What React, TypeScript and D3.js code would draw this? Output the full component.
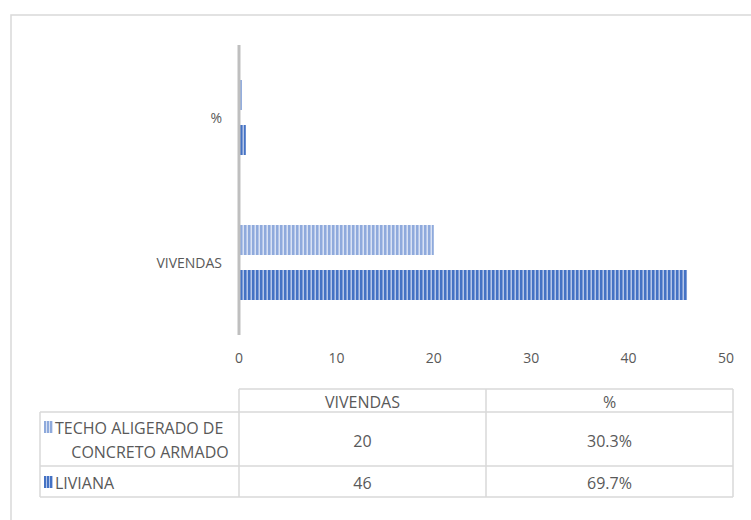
import React from "react";
import * as d3 from "d3";

const categories = ["%", "VIVENDAS"];
const seriesNames = ["TECHO ALIGERADO DE CONCRETO ARMADO", "LIVIANA"];
const techoLabelLines = ["TECHO ALIGERADO DE", "CONCRETO ARMADO"];
const techoValues = [0.303, 20];
const livianaValues = [0.697, 46];
const tableTecho = ["20", "30.3%"];
const tableLiviana = ["46", "69.7%"];
const tableHeaders = ["VIVENDAS", "%"];
const xTicks = [0, 10, 20, 30, 40, 50];

const W = 751;
const H = 520;
const FONT = "'Open Sans', 'Noto Sans', sans-serif";
const TXT = "#595959";
const GRID = "#d9d9d9";
const AXFS = 14;
const TFS = 16;

export default function App() {
  const x = d3.scaleLinear().domain([0, 50]).range([239, 726]);
  const y = d3.scaleBand<string>().domain(categories).range([45, 335]).paddingInner(0).paddingOuter(0);
  const barH = 30;
  const gap = 15;
  const groupH = barH * 2 + gap;

  const series = [
    { name: seriesNames[0], values: techoValues, fill: "url(#patLight)" },
    { name: seriesNames[1], values: livianaValues, fill: "url(#patDark)" },
  ];

  const colX = [40, 239, 486, 733];
  const rowY = [389, 412, 466, 497];

  return (
    <svg width={W} height={H} style={{ position: "absolute", left: 0, top: 0 }} fontFamily={FONT}>
      <defs>
        <pattern id="patDark" width={4} height={4} patternUnits="userSpaceOnUse">
          <rect width={4} height={4} fill="#4472C4" />
          <rect x={2} width={1} height={4} fill="#7F9DD6" />
          <rect x={3} width={1} height={4} fill="#B4C6E9" />
        </pattern>
        <pattern id="patLight" width={4} height={4} patternUnits="userSpaceOnUse">
          <rect width={4} height={4} fill="#8FAADC" />
          <rect x={2} width={1} height={4} fill="#B4C6EA" />
          <rect x={3} width={1} height={4} fill="#D9E2F3" />
        </pattern>
        <pattern id="keyDark" width={3} height={4} patternUnits="userSpaceOnUse" x={44}>
          <rect width={3} height={4} fill="#4472C4" />
          <rect x={2} width={1} height={4} fill="#B4C6E9" />
        </pattern>
        <pattern id="keyLight" width={3} height={4} patternUnits="userSpaceOnUse" x={44}>
          <rect width={3} height={4} fill="#8FAADC" />
          <rect x={2} width={1} height={4} fill="#D9E2F3" />
        </pattern>
      </defs>
      <rect x={0} y={0} width={W} height={H} fill="#fff" />
      {/* outer chart border */}
      <rect x={11} y={15} width={W + 20} height={H + 20} fill="none" stroke="#d9d9d9" strokeWidth={1.5} />

      {/* bars */}
      {categories.map((c, ci) => {
        const top = (y(c) as number) + (y.bandwidth() - groupH) / 2;
        return (
          <g key={c}>
            {series.map((s, si) => (
              <rect
                key={si}
                x={x(0)}
                y={top + si * (barH + gap)}
                width={x(s.values[ci]) - x(0)}
                height={barH}
                fill={s.fill}
              />
            ))}
            <text
              x={222}
              y={(y(c) as number) + y.bandwidth() / 2}
              textAnchor="end"
              dominantBaseline="central"
              fontSize={AXFS}
              fill={TXT}
            >
              {c}
            </text>
          </g>
        );
      })}

      {/* axis line */}
      <line x1={x(0)} x2={x(0)} y1={y.range()[0]} y2={y.range()[1]} stroke="#bfbfbf" strokeWidth={3} />

      {/* x tick labels */}
      {xTicks.map((t) => (
        <text key={t} x={x(t)} y={357} textAnchor="middle" dominantBaseline="central" fontSize={AXFS} fill={TXT}>
          {t}
        </text>
      ))}

      {/* data table */}
      <g stroke={GRID} strokeWidth={1.5} fill="none">
        <line x1={colX[1]} x2={colX[3]} y1={rowY[0]} y2={rowY[0]} />
        <line x1={colX[0]} x2={colX[3]} y1={rowY[1]} y2={rowY[1]} />
        <line x1={colX[0]} x2={colX[3]} y1={rowY[2]} y2={rowY[2]} />
        <line x1={colX[0]} x2={colX[3]} y1={rowY[3]} y2={rowY[3]} />
        <line x1={colX[0]} x2={colX[0]} y1={rowY[1]} y2={rowY[3]} />
        <line x1={colX[1]} x2={colX[1]} y1={rowY[0]} y2={rowY[3]} />
        <line x1={colX[2]} x2={colX[2]} y1={rowY[0]} y2={rowY[3]} />
        <line x1={colX[3]} x2={colX[3]} y1={rowY[0]} y2={rowY[3]} />
      </g>
      {tableHeaders.map((h, i) => (
        <text key={h} x={(colX[i + 1] + colX[i + 2]) / 2} y={(rowY[0] + rowY[1]) / 2 + 1} textAnchor="middle" dominantBaseline="central" fontSize={TFS} fill={TXT}>
          {h}
        </text>
      ))}
      {tableTecho.map((v, i) => (
        <text key={"t" + i} x={(colX[i + 1] + colX[i + 2]) / 2} y={(rowY[1] + rowY[2]) / 2 + 2} textAnchor="middle" dominantBaseline="central" fontSize={TFS} fill={TXT}>
          {v}
        </text>
      ))}
      {tableLiviana.map((v, i) => (
        <text key={"l" + i} x={(colX[i + 1] + colX[i + 2]) / 2} y={(rowY[2] + rowY[3]) / 2 + 1} textAnchor="middle" dominantBaseline="central" fontSize={TFS} fill={TXT}>
          {v}
        </text>
      ))}
      {/* legend keys + series names */}
      <rect x={44} y={421} width={9} height={12} fill="url(#keyLight)" />
      <text x={55} y={428} dominantBaseline="central" fontSize={TFS} fill={TXT}>{techoLabelLines[0]}</text>
      <text x={150} y={452} textAnchor="middle" dominantBaseline="central" fontSize={TFS} fill={TXT}>{techoLabelLines[1]}</text>
      <rect x={44} y={476} width={9} height={12} fill="url(#keyDark)" />
      <text x={55} y={483} dominantBaseline="central" fontSize={TFS} fill={TXT}>{seriesNames[1]}</text>
    </svg>
  );
}
